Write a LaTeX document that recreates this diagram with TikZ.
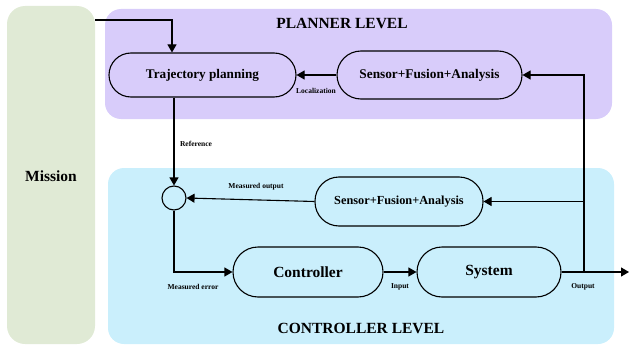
\documentclass[tikz,border=0pt]{standalone}
\usepackage{fontspec}
\setmainfont{Liberation Serif}
\usetikzlibrary{arrows.meta,calc}
\definecolor{missioncol}{RGB}{224,234,213}
\definecolor{plancol}{RGB}{216,204,250}
\definecolor{ctrlcol}{RGB}{202,239,252}
\tikzset{
  panel/.style={rounded corners=16pt, draw=none, inner sep=0pt},
  stadium/.style={draw=black, line width=1.1pt, rounded corners=#1, inner sep=0pt, font=\bfseries},
  conn/.style={draw=black, line width=1.1pt},
  arr/.style={conn, -{Triangle[length=8pt,width=9pt]}},
  lvl/.style={font=\fontsize{15.5}{17}\selectfont\bfseries},
  lbl/.style={font=\fontsize{7.5}{9}\selectfont\bfseries, inner sep=1pt},
}
\begin{document}
\begin{tikzpicture}[x=1pt,y=-1pt]
\useasboundingbox (0,0) rectangle (629,345);
% panels
\fill[missioncol, rounded corners=18pt] (7,6) rectangle (95,344);
\node[lvl] (mission) at (51,176) {Mission};
\coordinate (mR) at (95,20);
\fill[plancol, rounded corners=16pt] (105,9) rectangle (612,119);
\fill[ctrlcol, rounded corners=16pt] (108,168) rectangle (614,344);
\node[lvl] (plan) at (342,24) {PLANNER LEVEL};
\node[lvl] (ctrllvl) at (361,328) {CONTROLLER LEVEL};
% nodes
\node[stadium=22pt, minimum width=187pt, minimum height=44pt, font=\fontsize{13.2}{15}\selectfont\bfseries] (traj) at (202.5,75) {Trajectory planning};
\node[stadium=24pt, minimum width=185pt, minimum height=48pt, font=\fontsize{13.3}{15}\selectfont\bfseries] (sen1) at (429.5,75) {Sensor+Fusion+Analysis};
\node[draw=black, line width=1.1pt, circle, minimum size=24pt, inner sep=0pt] (sum) at (174,198) {};
\node[stadium=24pt, minimum width=168pt, minimum height=49pt, font=\fontsize{12.3}{14}\selectfont\bfseries] (sen2) at (399,201.5) {Sensor+Fusion+Analysis};
\node[stadium=25pt, minimum width=150pt, minimum height=50pt, font=\fontsize{15.5}{17}\selectfont\bfseries] (ctrl) at (308,272) {Controller};
\node[stadium=25pt, minimum width=144pt, minimum height=50pt, font=\fontsize{15.5}{17}\selectfont\bfseries] (sys) at (489,272) {System};
% coordinates
\coordinate (mt) at (172,20);
\coordinate (fb) at (584,272);
\coordinate (out) at (629,272);
% connectors
\draw[arr] (mR) -- (mt) -- (traj.north -| mt);
\draw[arr] (traj.south -| sum) -- (sum.north);
\draw[arr] (sum.south) -- (sum |- ctrl) -- (ctrl.west);
\draw[arr] (ctrl.east) -- (sys.west);
\draw[arr] (sys.east) -- (out);
\draw[arr] (fb) -- (fb |- sen1.east) -- (sen1.east);
\draw[arr] (fb |- sen2.east) -- (sen2.east);
\draw[arr] (sen2.west) -- (sum.east);
\draw[arr] (sen1.west) -- (traj.east);
% labels
\node[lbl] at (196,144) {Reference};
\node[lbl] at (316,91) {Localization};
\node[lbl] at (256,187) {Measured output};
\node[lbl] at (193,287) {Measured error};
\node[lbl] at (400,287) {Input};
\node[lbl] at (583,287) {Output};
\end{tikzpicture}
\end{document}
